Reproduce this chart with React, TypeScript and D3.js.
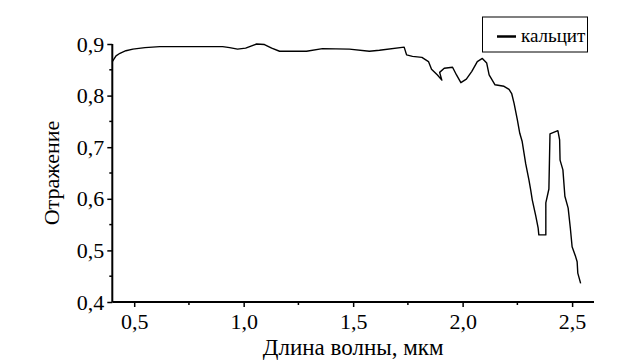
import { useRef, useEffect } from "react";
import * as d3 from "d3";

// wavelength, µm
const wavelength = [
  0.4, 0.417, 0.435, 0.462, 0.494, 0.549, 0.617, 0.904, 0.936, 0.972, 1.009,
  1.059, 1.095, 1.128, 1.164, 1.287, 1.36, 1.483, 1.574, 1.62, 1.733, 1.744,
  1.771, 1.814, 1.844, 1.858, 1.885, 1.905, 1.895, 1.916, 1.954, 1.972, 1.992,
  2.017, 2.042, 2.067, 2.09, 2.11, 2.121, 2.148, 2.189, 2.212, 2.224, 2.235,
  2.25, 2.261, 2.272, 2.288, 2.303, 2.311, 2.318, 2.334, 2.345, 2.348, 2.38,
  2.38, 2.394, 2.399, 2.435, 2.443, 2.445, 2.458, 2.467, 2.482, 2.492, 2.5,
  2.516, 2.523, 2.526, 2.539,
];
// reflectance of calcite
const reflectance = [
  0.866, 0.877, 0.882, 0.887, 0.89, 0.893, 0.895, 0.895, 0.893, 0.89, 0.892,
  0.9, 0.899, 0.892, 0.886, 0.886, 0.891, 0.89, 0.886, 0.888, 0.894, 0.879,
  0.876, 0.874, 0.866, 0.851, 0.84, 0.83, 0.845, 0.853, 0.855, 0.84, 0.825,
  0.832, 0.847, 0.866, 0.872, 0.863, 0.84, 0.821, 0.818, 0.812, 0.804, 0.785,
  0.753, 0.727, 0.711, 0.668, 0.636, 0.617, 0.598, 0.567, 0.543, 0.53, 0.53,
  0.592, 0.619, 0.726, 0.732, 0.714, 0.675, 0.656, 0.605, 0.582, 0.543, 0.507,
  0.488, 0.478, 0.456, 0.436,
];

const xTicks = [0.5, 1.0, 1.5, 2.0, 2.5];
const xMinorTicks = [0.75, 1.25, 1.75, 2.25];
const yTicks = [0.4, 0.5, 0.6, 0.7, 0.8, 0.9];
const yMinorTicks = [0.45, 0.55, 0.65, 0.75, 0.85];
const seriesName = "кальцит";
const xTitle = "Длина волны, мкм";
const yTitle = "Отражение";

const WIDTH = 623;
const HEIGHT = 360;
const FONT = "Liberation Serif, Times New Roman, Tinos, DejaVu Serif, serif";

const App = () => {
  const svgRef = useRef(null);

  useEffect(() => {
    const svg = d3.select(svgRef.current);
    svg.selectAll("*").remove();

    const left = 112.3;
    const right = 594;
    const top = 44;
    const bottom = 302;

    const x = d3.scaleLinear().domain([0.4, 2.6]).range([left, right]);
    const y = d3.scaleLinear().domain([0.4, 0.9]).range([bottom, top]);
    const fmt = (d) => d3.format(".1f")(d).replace(".", ",");

    // X axis
    const xAxis = svg.append("g").attr("transform", `translate(0,${bottom})`);
    xAxis
      .call(d3.axisBottom(x).tickValues(xTicks).tickFormat(fmt).tickSize(5).tickPadding(6))
      .call((g) => g.select(".domain").attr("stroke-width", 2).attr("d", `M${left},0H${right}`));
    xAxis
      .selectAll(".minor")
      .data(xMinorTicks)
      .join("line")
      .attr("class", "minor")
      .attr("x1", (d) => x(d))
      .attr("x2", (d) => x(d))
      .attr("y1", 0)
      .attr("y2", 3)
      .attr("stroke", "#000")
      .attr("stroke-width", 1.5);

    // Y axis
    const yAxis = svg.append("g").attr("transform", `translate(${left},0)`);
    yAxis
      .call(d3.axisLeft(y).tickValues(yTicks).tickFormat(fmt).tickSize(5).tickPadding(3))
      .call((g) => g.select(".domain").attr("stroke-width", 2).attr("d", `M0,${bottom}V${top}`));
    yAxis
      .selectAll(".minor")
      .data(yMinorTicks)
      .join("line")
      .attr("class", "minor")
      .attr("x1", 0)
      .attr("x2", -3)
      .attr("y1", (d) => y(d))
      .attr("y2", (d) => y(d))
      .attr("stroke", "#000")
      .attr("stroke-width", 1.5);

    svg.selectAll(".tick line").attr("stroke-width", 1.5);
    svg.selectAll("g").attr("font-family", null);
    svg
      .selectAll(".tick text")
      .style("font-family", FONT)
      .style("font-size", "22px")
      .attr("fill", "#000");

    // titles
    svg
      .append("text")
      .attr("x", (left + right) / 2)
      .attr("y", 355)
      .attr("text-anchor", "middle")
      .style("font-family", FONT)
      .style("font-size", "23px")
      .text(xTitle);

    svg
      .append("text")
      .attr("transform", `translate(59,${(top + bottom) / 2}) rotate(-90)`)
      .attr("text-anchor", "middle")
      .style("font-family", FONT)
      .style("font-size", "22px")
      .text(yTitle);

    // the curve
    const points = wavelength.map((w, i) => [w, reflectance[i]]);
    const line = d3
      .line()
      .x((d) => x(d[0]))
      .y((d) => y(d[1]));
    svg
      .append("path")
      .datum(points)
      .attr("d", line)
      .attr("fill", "none")
      .attr("stroke", "#000")
      .attr("stroke-width", 1.4)
      .attr("stroke-linejoin", "round");

    // legend
    const lg = svg.append("g");
    lg.append("rect")
      .attr("x", 482.5)
      .attr("y", 17)
      .attr("width", 105)
      .attr("height", 35)
      .attr("fill", "#fff")
      .attr("stroke", "#000")
      .attr("stroke-width", 1);
    lg.append("line")
      .attr("x1", 497)
      .attr("x2", 516)
      .attr("y1", 36.5)
      .attr("y2", 36.5)
      .attr("stroke", "#000")
      .attr("stroke-width", 2.5);
    lg.append("text")
      .attr("x", 521)
      .attr("y", 42)
      .style("font-family", FONT)
      .style("font-size", "19px")
      .text(seriesName);
  }, []);

  return (
    <div style={{ position: "absolute", left: 0, top: 0 }}>
      <svg ref={svgRef} width={WIDTH} height={HEIGHT} style={{ display: "block" }}></svg>
    </div>
  );
};

export default App;
